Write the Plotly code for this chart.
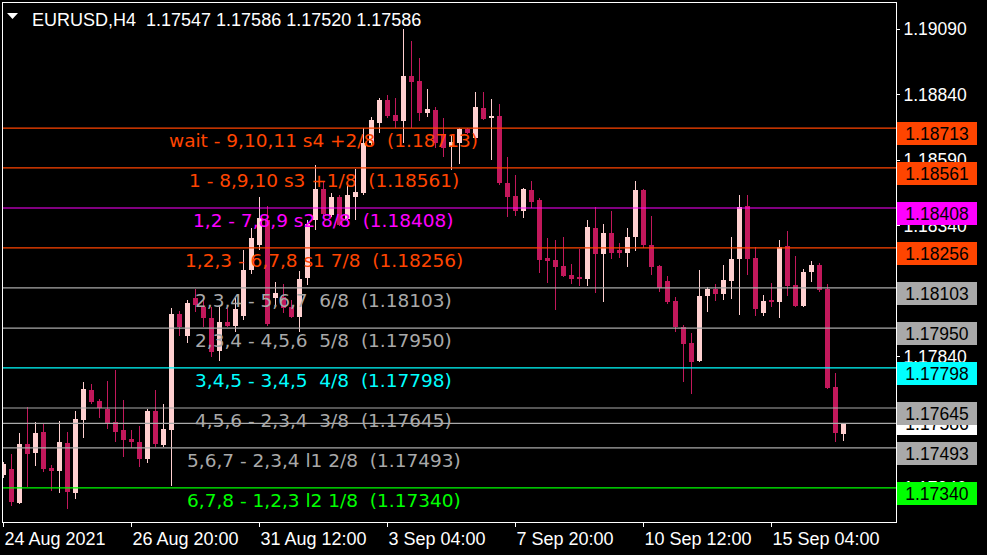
import plotly.graph_objects as go

# ---------------- data ----------------
symbol = "EURUSD,H4"
bar_index = list(range(106))

opens = [1.17389, 1.17412, 1.17282, 1.17507, 1.17473, 1.17553, 1.17416, 1.17404, 1.17511, 1.17320,
         1.17599, 1.17713, 1.17671, 1.17641, 1.17591, 1.17561, 1.17527, 1.17515, 1.17450, 1.17633,
         1.17504, 1.17561, 1.18003, 1.17920, 1.18064, 1.18030, 1.17988, 1.17862, 1.17973, 1.17958,
         1.17996, 1.18171, 1.18267, 1.18362, 1.18064, 1.18068, 1.18030, 1.17992, 1.18141, 1.18362,
         1.18480, 1.18381, 1.18450, 1.18366, 1.18450, 1.18465, 1.18656, 1.18732, 1.18820, 1.18763,
         1.18740, 1.18911, 1.18892, 1.18770, 1.18782, 1.18690, 1.18641, 1.18656, 1.18709, 1.18675,
         1.18789, 1.18751, 1.18759, 1.18503, 1.18454, 1.18396, 1.18477, 1.18438, 1.18217, 1.18209,
         1.18186, 1.18152, 1.18145, 1.18137, 1.18332, 1.18232, 1.18312, 1.18248, 1.18236, 1.18297,
         1.18477, 1.18267, 1.18186, 1.18129, 1.18053, 1.17954, 1.17893, 1.17824, 1.18072, 1.18099,
         1.18080, 1.18129, 1.18213, 1.18415, 1.18217, 1.18007, 1.18057, 1.18049, 1.18263, 1.18114,
         1.18034, 1.18164, 1.18190, 1.18099, 1.17725, 1.17547]
highs = [1.17439, 1.17469, 1.17549, 1.17649, 1.17591, 1.17588, 1.17429, 1.17595, 1.17553, 1.17633,
         1.17744, 1.17736, 1.17681, 1.17748, 1.17790, 1.17675, 1.17561, 1.17576, 1.17641, 1.17713,
         1.17660, 1.18026, 1.18015, 1.18057, 1.18099, 1.18064, 1.18030, 1.18034, 1.18026, 1.18064,
         1.18248, 1.18332, 1.18450, 1.18415, 1.18125, 1.18118, 1.18057, 1.18167, 1.18362, 1.18572,
         1.18511, 1.18465, 1.18457, 1.18496, 1.18557, 1.18713, 1.18755, 1.18828, 1.18839, 1.18828,
         1.19091, 1.19045, 1.18980, 1.18862, 1.18795, 1.18751, 1.18686, 1.18713, 1.18714, 1.18850,
         1.18850, 1.18824, 1.18805, 1.18602, 1.18534, 1.18484, 1.18511, 1.18446, 1.18293, 1.18286,
         1.18297, 1.18194, 1.18251, 1.18362, 1.18412, 1.18347, 1.18396, 1.18274, 1.18332, 1.18511,
         1.18480, 1.18377, 1.18190, 1.18148, 1.18068, 1.17961, 1.17931, 1.18171, 1.18106, 1.18118,
         1.18190, 1.18297, 1.18457, 1.18457, 1.18259, 1.18076, 1.18122, 1.18286, 1.18320, 1.18225,
         1.18175, 1.18206, 1.18198, 1.18118, 1.17778, 1.17586]
lows = [1.17378, 1.17271, 1.17279, 1.17343, 1.17423, 1.17401, 1.17328, 1.17320, 1.17259, 1.17298,
        1.17530, 1.17660, 1.17607, 1.17565, 1.17515, 1.17458, 1.17492, 1.17420, 1.17435, 1.17496,
        1.17496, 1.17347, 1.17920, 1.17893, 1.18011, 1.17954, 1.17839, 1.17824, 1.17954, 1.17935,
        1.17980, 1.18156, 1.18248, 1.17958, 1.18038, 1.18007, 1.17988, 1.17935, 1.18114, 1.18324,
        1.18377, 1.18373, 1.18339, 1.18362, 1.18362, 1.18457, 1.18644, 1.18694, 1.18751, 1.18713,
        1.18656, 1.18713, 1.18740, 1.18755, 1.18637, 1.18602, 1.18553, 1.18576, 1.18690, 1.18671,
        1.18744, 1.18591, 1.18496, 1.18373, 1.18377, 1.18370, 1.18408, 1.18160, 1.18122, 1.18019,
        1.18145, 1.18118, 1.18110, 1.18110, 1.18083, 1.18049, 1.18213, 1.18217, 1.18183, 1.18244,
        1.18255, 1.18152, 1.18087, 1.18042, 1.17935, 1.17744, 1.17698, 1.17820, 1.18011, 1.18053,
        1.18057, 1.18061, 1.18000, 1.18152, 1.17996, 1.17996, 1.18030, 1.17988, 1.18072, 1.18030,
        1.18030, 1.18125, 1.18087, 1.17717, 1.17515, 1.17520]
closes = [1.17431, 1.17286, 1.17507, 1.17469, 1.17549, 1.17412, 1.17404, 1.17515, 1.17324, 1.17603,
          1.17717, 1.17668, 1.17645, 1.17588, 1.17553, 1.17523, 1.17515, 1.17450, 1.17633, 1.17507,
          1.17565, 1.18003, 1.17954, 1.18045, 1.18038, 1.17988, 1.17858, 1.17973, 1.17958, 1.18022,
          1.18171, 1.18293, 1.18370, 1.17965, 1.18083, 1.18026, 1.17992, 1.18137, 1.18347, 1.18480,
          1.18385, 1.18450, 1.18343, 1.18457, 1.18469, 1.18656, 1.18744, 1.18820, 1.18759, 1.18740,
          1.18911, 1.18888, 1.18770, 1.18785, 1.18656, 1.18637, 1.18660, 1.18709, 1.18694, 1.18793,
          1.18747, 1.18759, 1.18503, 1.18450, 1.18396, 1.18480, 1.18431, 1.18209, 1.18206, 1.18183,
          1.18148, 1.18137, 1.18137, 1.18335, 1.18232, 1.18312, 1.18236, 1.18236, 1.18297, 1.18477,
          1.18267, 1.18183, 1.18103, 1.18049, 1.17954, 1.17889, 1.17820, 1.18072, 1.18099, 1.18080,
          1.18133, 1.18213, 1.18412, 1.18213, 1.18022, 1.18053, 1.18049, 1.18259, 1.18110, 1.18034,
          1.18164, 1.18190, 1.18095, 1.17721, 1.17549, 1.17586]

x_tick_bars = [0, 16, 32, 48, 64, 80, 96]
x_tick_labels = ["24 Aug 2021", "26 Aug 20:00", "31 Aug 12:00", "3 Sep 04:00",
                 "7 Sep 20:00", "10 Sep 12:00", "15 Sep 04:00"]
y_tick_values = [1.17340, 1.17590, 1.17840, 1.18090, 1.18340, 1.18590, 1.18840, 1.19090]

levels = [1.18713, 1.18561, 1.18408, 1.18256, 1.18103, 1.17950, 1.17798, 1.17645, 1.17493, 1.17340]
level_names = ["wait - 9,10,11 s4 +2/8", "1 - 8,9,10 s3 +1/8", "1,2 - 7,8,9 s2 8/8",
               "1,2,3 - 6,7,8 s1 7/8", "2,3,4 - 5,6,7  6/8", "2,3,4 - 4,5,6  5/8",
               "3,4,5 - 3,4,5  4/8", "4,5,6 - 2,3,4  3/8", "5,6,7 - 2,3,4 l1 2/8",
               "6,7,8 - 1,2,3 l2 1/8"]
label_bar = 40  # bar under the centre of the level captions

# ---------------- styles ----------------
ORANGE = "#FF4500"
MAGENTA = "#FF00FF"
GRAY = "#A9A9A9"
CYAN = "#00FFFF"
LIME = "#00FF00"
level_colors = [ORANGE, ORANGE, MAGENTA, ORANGE, GRAY, GRAY, CYAN, GRAY, GRAY, LIME]
BULL = "#FFD0D0"
BEAR = "#C2185B"
AXIS_FONT = "Liberation Sans, Arial, sans-serif"
TEXT_FONT = "DejaVu Sans, Verdana, sans-serif"

bid = closes[-1]
last_open, last_high, last_low = opens[-1], highs[-1], lows[-1]

candle_colors = [BULL if c >= o else BEAR for o, c in zip(opens, closes)]

fig = go.Figure()
# wicks
fig.add_trace(go.Bar(
    x=bar_index, y=[h - l for h, l in zip(highs, lows)], base=lows,
    width=0.125, marker=dict(color=candle_colors, line=dict(width=0)),
    hoverinfo="skip"))
# bodies
fig.add_trace(go.Bar(
    x=bar_index, y=[abs(c - o) for o, c in zip(opens, closes)],
    base=[min(o, c) for o, c in zip(opens, closes)],
    width=0.625, marker=dict(color=candle_colors, line=dict(width=0)),
    hoverinfo="skip"))

shapes = []
for lv, col in zip(levels, level_colors):
    shapes.append(dict(type="line", xref="paper", x0=0, x1=1, yref="y", y0=lv, y1=lv,
                       line=dict(color=col, width=1.2), layer="above"))
shapes.append(dict(type="line", xref="paper", x0=0, x1=1, yref="y", y0=bid, y1=bid,
                   line=dict(color=GRAY, width=1.2), layer="above"))
# small menu triangle before the symbol caption
shapes.append(dict(type="path", xref="paper", yref="paper",
                   path="M 0.0045,0.9807 L 0.0168,0.9807 L 0.01065,0.9692 Z",
                   fillcolor="white", line=dict(width=0), layer="above"))

annotations = []
# current price tag (drawn first so level tags overlap it)
annotations.append(dict(xref="paper", x=1, xshift=1, xanchor="left", yref="y", y=bid,
                        yanchor="middle", text=f"{bid:.5f}", showarrow=False,
                        width=80, height=23, align="center", valign="middle",
                        bgcolor="white", borderpad=0, borderwidth=0,
                        font=dict(family=AXIS_FONT, size=17.5, color="black")))
for lv, col in zip(levels, level_colors):
    annotations.append(dict(xref="paper", x=1, xshift=1, xanchor="left", yref="y", y=lv,
                            yanchor="top", yshift=6, text=f"{lv:.5f}", showarrow=False,
                            width=80, height=23, align="center", valign="middle",
                            bgcolor=col, borderpad=0, borderwidth=0,
                            font=dict(family=AXIS_FONT, size=17.5, color="black")))
for lv, col, name in zip(levels, level_colors, level_names):
    txt = name.replace("  ", "\u00a0 ") + f"\u00a0 ({lv:.5f})"
    annotations.append(dict(xref="x", x=label_bar, xanchor="center", yref="y", y=lv,
                            yanchor="middle", yshift=-12.5, text=txt, showarrow=False,
                            font=dict(family=TEXT_FONT, size=18.5, color=col)))
annotations.append(dict(xref="paper", x=0, xshift=27, xanchor="left", yref="paper", y=1,
                        yshift=-5, yanchor="top",
                        text=f"{symbol}\u00a0 {last_open:.5f} {last_high:.5f} {last_low:.5f} {bid:.5f}",
                        showarrow=False, font=dict(family=AXIS_FONT, size=18, color="white")))

fig.update_layout(
    width=987, height=555,
    margin=dict(l=3, r=91, t=3, b=33, pad=0),
    paper_bgcolor="black", plot_bgcolor="black",
    showlegend=False, barmode="overlay", bargap=0, bargroupgap=0,
    hovermode=False,
    shapes=shapes, annotations=annotations,
    xaxis=dict(range=[-0.0625, 111.5625], tickmode="array", tickvals=x_tick_bars,
               ticktext=x_tick_labels, ticks="outside", ticklen=4, tickcolor="white",
               tickwidth=1, ticklabelposition="outside right",
               tickfont=dict(family=AXIS_FONT, size=18, color="white"),
               showline=True, linecolor="white", linewidth=1, mirror=True,
               showgrid=False, zeroline=False, fixedrange=True),
    yaxis=dict(range=[1.17210, 1.19190], side="right", tickmode="array",
               tickvals=y_tick_values, ticktext=[f"{v:.5f}" for v in y_tick_values],
               ticks="outside", ticklen=3, tickcolor="white", tickwidth=1,
               tickfont=dict(family=AXIS_FONT, size=17.5, color="white"),
               showline=True, linecolor="white", linewidth=1, mirror=True,
               showgrid=False, zeroline=False, fixedrange=True),
)

fig.write_html("out.html", config={"displayModeBar": False},
               post_script="document.body.style.margin='0';document.body.style.background='black';")
